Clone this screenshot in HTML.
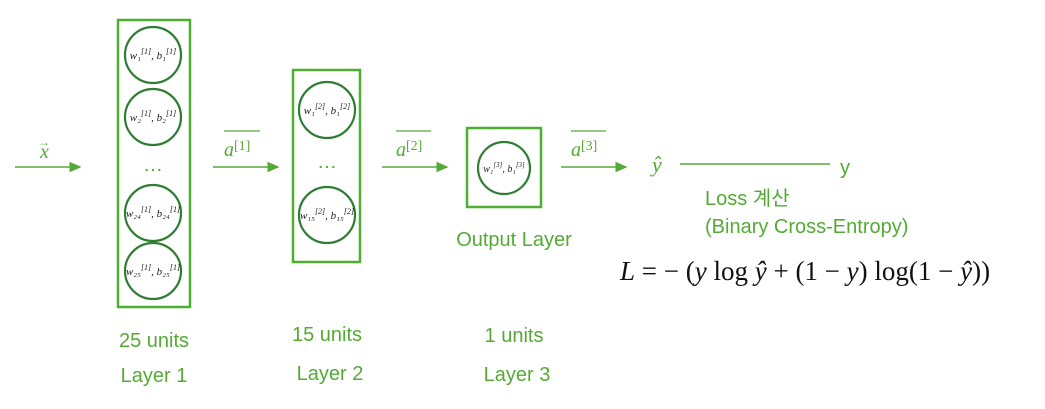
<!DOCTYPE html>
<html><head><meta charset="utf-8"><style>
body{margin:0;background:#fff;}
svg{display:block;}
.g{fill:#55aa35;font-family:"Liberation Sans","Noto Sans CJK KR",sans-serif;font-size:20px;}
.m{font-family:"Liberation Serif",serif;font-style:italic;fill:#55aa35;}
.n{font-family:"Liberation Serif",serif;font-style:italic;font-size:11px;fill:#222;}
.f{font-family:"Liberation Serif",serif;font-size:27px;fill:#111;}
</style></head><body>
<svg width="1045" height="409" viewBox="0 0 1045 409">
<defs><marker id="a" markerWidth="8" markerHeight="8" refX="7" refY="4" orient="auto"><path d="M0,0.5 L8,4 L0,7.5z" fill="#55aa35"/></marker></defs>
<g stroke="#4caf2f" stroke-width="2.5" fill="none">
<rect x="118" y="20" width="72" height="287"/>
<rect x="293" y="70" width="67" height="192"/>
<rect x="467" y="128" width="74" height="79"/>
</g>
<g stroke="#2e7d32" stroke-width="2.2" fill="#fff">
<circle cx="153" cy="55" r="28"/><circle cx="153" cy="117" r="28"/>
<circle cx="153" cy="213" r="28"/><circle cx="153" cy="271" r="28"/>
<circle cx="327" cy="110" r="28"/><circle cx="327" cy="215" r="28"/>
<circle cx="504" cy="168" r="26"/>
</g>
<g class="n" text-anchor="middle">
<text x="153" y="59">w₁<tspan font-size="8" dy="-5">[1]</tspan><tspan dy="5">, b₁</tspan><tspan font-size="8" dy="-5">[1]</tspan></text>
<text x="153" y="121">w₂<tspan font-size="8" dy="-5">[1]</tspan><tspan dy="5">, b₂</tspan><tspan font-size="8" dy="-5">[1]</tspan></text>
<text x="153" y="217">w₂₄<tspan font-size="8" dy="-5">[1]</tspan><tspan dy="5">, b₂₄</tspan><tspan font-size="8" dy="-5">[1]</tspan></text>
<text x="153" y="275">w₂₅<tspan font-size="8" dy="-5">[1]</tspan><tspan dy="5">, b₂₅</tspan><tspan font-size="8" dy="-5">[1]</tspan></text>
<text x="327" y="114">w₁<tspan font-size="8" dy="-5">[2]</tspan><tspan dy="5">, b₁</tspan><tspan font-size="8" dy="-5">[2]</tspan></text>
<text x="327" y="219">w₁₅<tspan font-size="8" dy="-5">[2]</tspan><tspan dy="5">, b₁₅</tspan><tspan font-size="8" dy="-5">[2]</tspan></text>
<text x="504" y="172" font-size="10">w₁<tspan font-size="7" dy="-5">[3]</tspan><tspan dy="5">, b₁</tspan><tspan font-size="7" dy="-5">[3]</tspan></text>
</g>
<text x="153" y="171" class="g" text-anchor="middle" font-size="16">…</text>
<text x="327" y="168" class="g" text-anchor="middle" font-size="16">…</text>
<g stroke="#55aa35" stroke-width="1.5" marker-end="url(#a)">
<line x1="15" y1="167" x2="80" y2="167"/><line x1="213" y1="167" x2="278" y2="167"/>
<line x1="382" y1="167" x2="447" y2="167"/><line x1="561" y1="167" x2="626" y2="167"/>
</g>
<line x1="680" y1="164" x2="830" y2="164" stroke="#55aa35" stroke-width="1.5"/>
<text x="40" y="158" class="m" font-size="20">x</text><text x="38" y="146" fill="#55aa35" font-size="12" font-family="Liberation Sans">→</text>
<g stroke="#55aa35" stroke-width="1.3"><line x1="224" y1="131" x2="260" y2="131"/><line x1="396" y1="131" x2="431" y2="131"/><line x1="571" y1="131" x2="606" y2="131"/></g>
<text x="224" y="156" class="m" font-size="20">a<tspan font-style="normal" font-size="14" dy="-6">[1]</tspan></text>
<text x="396" y="156" class="m" font-size="20">a<tspan font-style="normal" font-size="14" dy="-6">[2]</tspan></text>
<text x="571" y="156" class="m" font-size="20">a<tspan font-style="normal" font-size="14" dy="-6">[3]</tspan></text>
<text x="652" y="172" class="m" font-size="22">ŷ</text>
<text x="840" y="174" class="g" font-size="22">y</text>
<text x="705" y="205" class="g">Loss 계산</text>
<text x="705" y="233" class="g">(Binary Cross-Entropy)</text>
<text x="620" y="280" class="f"><tspan font-style="italic">L</tspan> = − (<tspan font-style="italic">y</tspan> log <tspan font-style="italic">ŷ</tspan> + (1 − <tspan font-style="italic">y</tspan>) log(1 − <tspan font-style="italic">ŷ</tspan>))</text>
<g class="g" text-anchor="middle">
<text x="514" y="246">Output Layer</text>
<text x="154" y="347">25 units</text><text x="154" y="382">Layer 1</text>
<text x="327" y="341">15 units</text><text x="330" y="380">Layer 2</text>
<text x="514" y="342">1 units</text><text x="517" y="381">Layer 3</text>
</g>
</svg>
</body></html>
